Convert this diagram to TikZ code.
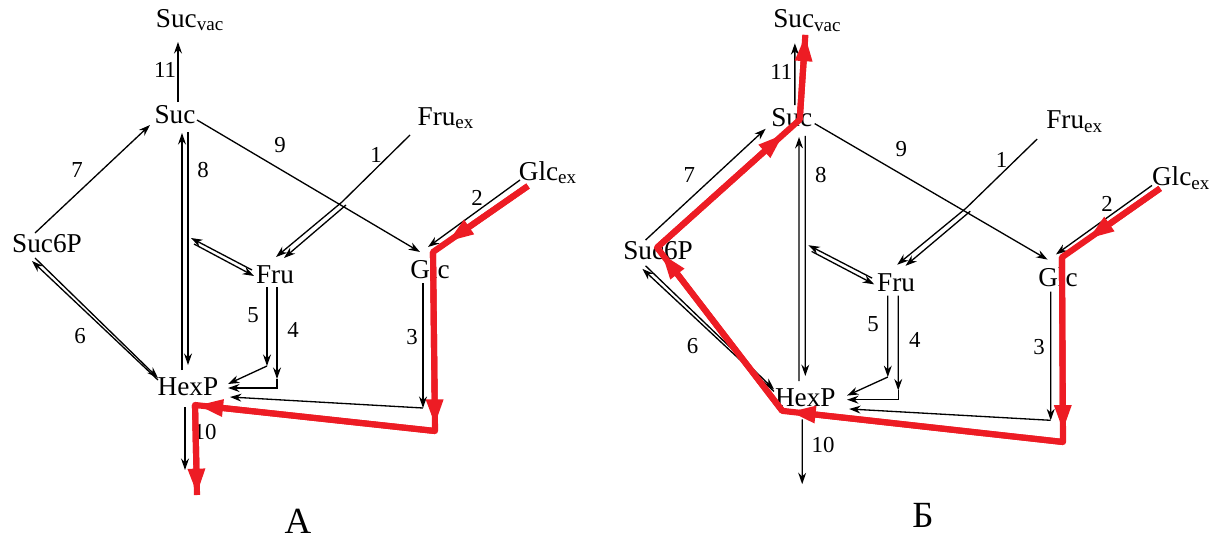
\documentclass[tikz,border=0pt]{standalone}
\usepackage{fontspec}
\setmainfont{Liberation Serif}
\usetikzlibrary{arrows.meta,calc}
\definecolor{pathred}{RGB}{237,28,36}
\begin{document}
\begin{tikzpicture}[x=0.2mm, y=-0.2mm, >={Stealth[length=6.5pt,width=4.5pt]},
    met/.style={inner sep=0pt, anchor=base, font=\fontsize{15.5}{18}\selectfont},
    num/.style={inner sep=0pt, font=\fontsize{13}{15}\selectfont},
    flux/.style={->, line width=0.75pt},
    hot/.style={pathred, line width=3.5pt, line join=round},
    hotarr/.style={hot, -{Triangle[length=15pt,width=9pt]}}]
    \useasboundingbox (0,0) rectangle (1220,539);

    % Two copies of the network
    \foreach \p/\dx/\sx/\sy/\capt/\cx/\cy in {a/0/1/1/А/298/533, b/609/1.044/1.03/Б/923/527} {
        \node[inner sep=0pt, anchor=base, font=\fontsize{21}{24}\selectfont] (\p-capt) at (\cx,\cy) {\capt};
        \begin{scope}[shift={(\dx,0)}, xscale=\sx, yscale=\sy, name prefix=\p-]
            % Metabolites
            \node[met] (sucvac) at (190,27) {Suc\textsubscript{vac}};
            \node[met] (suc) at (175,123) {Suc};
            \node[met] (suc6p) at (47,252) {Suc6P};
            \node[met] (fru) at (275,283) {Fru};
            \node[met] (glc) at (430,278) {Glc};
            \node[met] (hexp) at (188,395) {HexP};
            \node[met] (fruex) at (446,125) {Fru\textsubscript{ex}};
            \node[met] (glcex) at (548,180) {Glc\textsubscript{ex}};

            % Reactions 11, 7, 9
            \draw[flux] ($(suc.base)+(3,-21)$) -- ($(sucvac.base)+(-12,15)$);
            \node[num] (n11) at (165,70) {11};
            \draw[flux] ($(suc6p.base)+(-12,-19)$) -- ($(suc.base)+(-25,2)$);
            \node[num] (n7) at (77,170) {7};
            \draw[flux] ($(suc.base)+(22,-3)$) -- ($(glc.base)+(-10,-26)$);
            \node[num] (n9) at (280,145) {9};

            % Reaction 8, both ways
            \draw[flux] ($(hexp.base)+(-6,-25)$) -- ($(suc.base)+(7,10)$);
            \draw[flux] ($(suc.base)+(13,9)$) -- ($(hexp.base)+(0,-30)$);
            \node[num] (n8) at (203,170) {8};
            \draw[flux] ($(fru.base)+(-23,-13)$) -- ($(hexp.base)+(3,-157)$);
            \draw[flux] ($(hexp.base)+(6,-151)$) -- ($(fru.base)+(-21,-7)$);

            % Reaction 6, both ways
            \draw[flux] ($(hexp.base)+(-30,-15)$) -- ($(suc6p.base)+(-15,9)$);
            \draw[flux] ($(suc6p.base)+(-12,6)$) -- ($(hexp.base)+(-30,-17)$);
            \node[num] (n6) at (80,336) {6};

            % Reactions 5 and 4
            \coordinate (k5) at (267,366);
            \draw[flux] ($(fru.base)+(-8,4)$) -- (k5);
            \draw[flux] (k5) -- ($(hexp.base)+(40,-11)$);
            \node[num] (n5) at (253,315) {5};
            \coordinate (k4) at (277,379);
            \draw[flux] ($(fru.base)+(2,4)$) -- (k4);
            \draw[flux] (k4) |- ($(hexp.base)+(40,-7)$);
            \node[num] (n4) at (293,330) {4};

            % Reaction 3
            \coordinate (k3) at (423,408);
            \draw[flux] ($(glc.base)+(-7,5)$) -- (k3);
            \draw[flux] (k3) -- ($(hexp.base)+(42,2)$);
            \node[num] (n3) at (412,337) {3};

            % Reaction 10
            \coordinate (out) at (185,470);
            \draw[flux] ($(hexp.base)+(-3,12)$) -- (out);
            \node[num] (n10) at (205,432) {10};

            % Uptake 1 and 2
            \coordinate (k1) at (342,202);
            \draw[line width=0.75pt] ($(fruex.base)+(-36,10)$) -- (k1);
            \draw[flux] (k1) -- ($(fru.base)+(1,-26)$);
            \draw[flux] ($(k1)+(4,3)$) -- ($(fru.base)+(9,-25)$);
            \node[num] (n1) at (376,155) {1};
            \draw[flux] ($(glcex.base)+(-28,0)$) -- ($(glc.base)+(-2,-31)$);
            \node[num] (n2) at (477,198) {2};
        \end{scope}
    }

    % Red route, panel A
    \coordinate (a-rc) at (435,431);
    \coordinate (a-rout) at (197,495);
    \draw[hot] ($(a-glcex.base)+(-20,6)$) -- ($(a-glc.base)+(3,-26)$) -- (a-rc)
        -- ($(a-hexp.base)+(7,10)$) -- (a-rout);
    \draw[hotarr, shorten >=10pt] ($(a-glcex.base)+(-20,6)$) -- ($(a-glc.base)+(3,-26)$);
    \draw[hotarr, shorten >=3pt] ($(a-glc.base)+(3,-26)$) -- (a-rc);
    \draw[hotarr, shorten >=1pt] (a-rc) -- ($(a-hexp.base)+(7,10)$);
    \draw[hotarr] ($(a-hexp.base)+(7,10)$) -- (a-rout);

    % Red route, panel B
    \coordinate (b-rc) at (1063,442);
    \draw[hot] ($(b-glcex.base)+(-21,3)$) -- ($(b-glc.base)+(4,-29)$) -- (b-rc)
        -- ($(b-hexp.base)+(-23,4)$) -- ($(b-suc6p.base)+(-1,-12)$)
        -- ($(b-suc.base)+(8,-7)$) -- ($(b-sucvac.base)+(-2,7)$);
    \draw[hotarr, shorten >=18pt] ($(b-glcex.base)+(-21,3)$) -- ($(b-glc.base)+(4,-29)$);
    \draw[hotarr, shorten >=6pt] ($(b-glc.base)+(4,-29)$) -- (b-rc);
    \draw[hotarr, shorten >=4pt] (b-rc) -- ($(b-hexp.base)+(-23,4)$);
    \draw[hotarr, shorten >=4pt] ($(b-hexp.base)+(-23,4)$) -- ($(b-suc6p.base)+(-1,-12)$);
    \draw[hotarr, shorten >=12pt] ($(b-suc6p.base)+(-1,-12)$) -- ($(b-suc.base)+(8,-7)$);
    \draw[hotarr] ($(b-suc.base)+(8,-7)$) -- ($(b-sucvac.base)+(-2,7)$);
\end{tikzpicture}
\end{document}
